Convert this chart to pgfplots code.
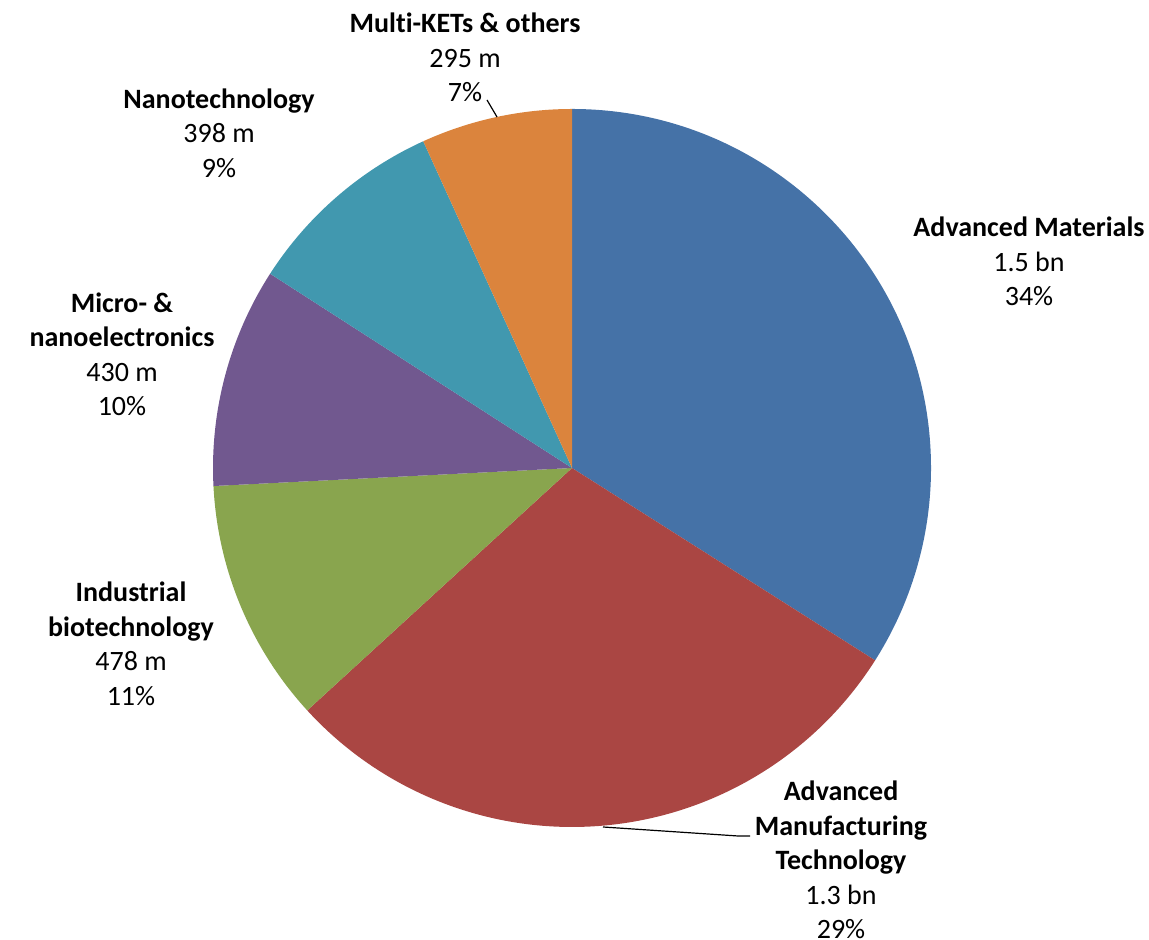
\documentclass[border=0pt]{standalone}
\usepackage{pgfplots}
\usepackage{pgfplotstable}
\pgfplotsset{compat=1.18}
\usepackage{fontspec}
\setmainfont{Carlito}[Ligatures=NoCommon]

\definecolor{cAM}{HTML}{4572A7}
\definecolor{cAMT}{HTML}{AA4643}
\definecolor{cIB}{HTML}{89A54E}
\definecolor{cMN}{HTML}{71588F}
\definecolor{cNT}{HTML}{4198AF}
\definecolor{cMK}{HTML}{DB843D}

% shares in percent, clockwise from 12 o'clock
\pgfplotstableread{
pct  col
34.0 cAM
29.2 cAMT
11.0 cIB
9.9  cMN
9.1  cNT
6.8  cMK
}\pietable

\tikzset{lbl/.style={font=\fontsize{14}{17.25}\selectfont, align=center, inner sep=0pt}}

\begin{document}
\begin{tikzpicture}
\begin{axis}[
  width=574.5pt, height=470pt, scale only axis,
  xmin=0, xmax=1149, ymin=0, ymax=940,
  hide axis, clip=false
]
\draw[draw=none] (axis cs:0,0) rectangle (axis cs:1149,940);
\def\cum{90}
\pgfplotsforeachungrouped \i in {0,...,5}{%
  \pgfplotstablegetelem{\i}{pct}\of\pietable \let\p\pgfplotsretval
  \pgfplotstablegetelem{\i}{col}\of\pietable \let\c\pgfplotsretval
  \pgfmathsetmacro\e{\cum-3.6*\p}%
  \edef\doslice{\noexpand\fill[\c] (axis cs:572,472) -- +(\cum:179.5pt)
    arc[start angle=\cum, end angle=\e, radius=179.5pt] -- cycle;}%
  \doslice
  \let\cum\e
}

% leader lines
\draw[black, line width=0.6pt] (axis cs:487,840) -- (axis cs:497,823);
\draw[black, line width=0.6pt] (axis cs:603,113) -- (axis cs:738,104) -- (axis cs:750,104);

\node[lbl] at (axis cs:1029,678.5) {\textbf{Advanced Materials}\\1.5 bn\\34\%};
\node[lbl] at (axis cs:841,80) {\textbf{Advanced}\\\textbf{Manufacturing}\\\textbf{Technology}\\1.3 bn\\29\%};
\node[lbl] at (axis cs:131,296) {\textbf{Industrial}\\\textbf{biotechnology}\\478 m\\11\%};
\node[lbl] at (axis cs:122,585.5) {\textbf{Micro- \&}\\\textbf{nanoelectronics}\\430 m\\10\%};
\node[lbl] at (axis cs:219,807) {\textbf{Nanotechnology}\\398 m\\9\%};
\node[lbl] at (axis cs:465,882.5) {\textbf{Multi-KETs \& others}\\295 m\\7\%};
\end{axis}
\end{tikzpicture}
\end{document}
